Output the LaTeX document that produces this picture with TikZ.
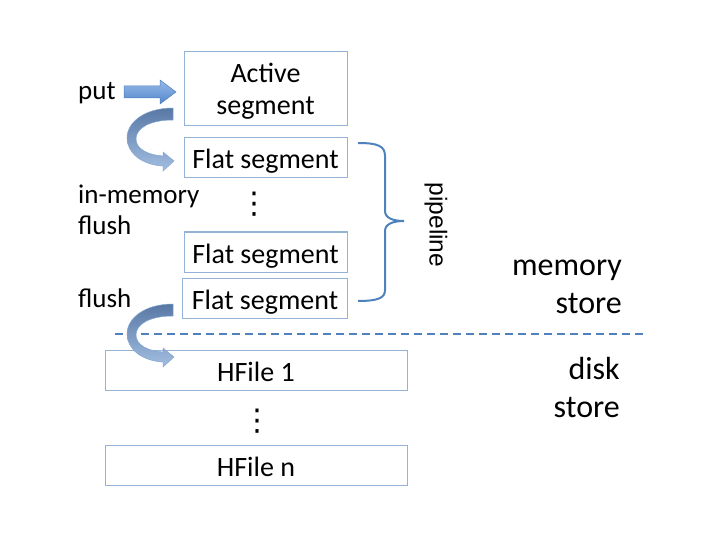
\documentclass[tikz,border=0pt]{standalone}
\usepackage{fontspec}
\setmainfont{Carlito}
\newfontfamily\arialfont{Liberation Sans}
\newfontfamily\symfont{DejaVu Sans}
\usetikzlibrary{positioning}
\definecolor{boxblue}{RGB}{149,179,215}
\definecolor{steel}{RGB}{79,129,189}
\definecolor{arrowdark}{RGB}{88,120,164}
\definecolor{arrowlight}{RGB}{163,190,226}
\definecolor{putlight}{RGB}{150,186,232}
\definecolor{putdark}{RGB}{84,134,204}

\begin{document}
\begin{tikzpicture}[x=1pt, y=-1pt,
  every node/.style={font=\fontsize{28}{32}\selectfont, inner sep=0pt},
  seg/.style={draw=boxblue, line width=1pt, minimum width=163, minimum height=40,
              align=center, text height=25pt, text depth=3pt},
  hfile/.style={seg, minimum width=302},
  vdots/.style={font=\symfont\fontsize{30}{30}\selectfont},
  sidetext/.style={anchor=base west, align=left, font=\fontsize{27}{32}\selectfont},
  storetext/.style={anchor=base east, align=right, font=\fontsize{32}{38}\selectfont}]
  \useasboundingbox (0,0) rectangle (720,540);

  % memory store: active segment and pipeline of flat segments
  \node[draw=boxblue, line width=1pt, minimum width=163, minimum height=74,
        align=center, text depth=1pt] (active) at (265.5,89) {Active\\segment};
  \node[seg] (flat1) at (265.5,158) {Flat segment};
  \node[vdots] (dots1) at (254,204.5) {⋮};
  \node[seg] (flat2) at (265.5,252) {Flat segment};
  \node[seg, minimum width=165] (flat3) at (265,298) {Flat segment};

  % disk store
  \node[hfile] (hfile1) at (256,370) {HFile 1};
  \node[vdots] (dots2) at (257,421.5) {⋮};
  \node[hfile] (hfilen) at (256,465) {HFile n};

  % side labels (base = last line)
  \node[sidetext] (put) at (78,100) {put};
  \node[sidetext] (inmem) at (78,235) {in-memory\\flush};
  \node[sidetext] (flush) at (78,307) {flush};
  \node[storetext] (memstore) at (622,313) {memory\\store};
  \node[storetext] (diskstore) at (620,417) {disk\\store};

  % brace over the pipeline
  \draw[steel, line width=2pt]
    (358,143) .. controls (378,143) and (385,146) .. (385,156) -- (385,211)
    .. controls (385,218) and (393,221) .. (404,221)
    .. controls (393,221) and (385,224) .. (385,231) -- (385,290)
    .. controls (385,298) and (378,301) .. (358,301);
  \node[font=\arialfont\fontsize{24.5}{28}\selectfont, rotate=-90] (pipeline) at (436,225) {pipeline};

  % memory / disk divider
  \draw[steel, line width=2pt, dash pattern=on 8pt off 5pt] (115,334) -- (645,334);

  % put arrow
  \shade[top color=putlight, bottom color=putdark, draw=steel, line width=0.5pt]
    (124,86) -- (160,86) -- (160,80) -- (176,92) -- (160,104) -- (160,98) -- (124,98) -- cycle;

  % curved flush arrows
  \foreach \dy in {0,196} {
    \shade[shift={(0,\dy)}, top color=arrowdark, bottom color=arrowlight,
           draw=steel!70, line width=0.5pt]
      (173,108) .. controls (145,108) and (127,122) .. (127,138)
      .. controls (127,153) and (142,165) .. (163,166)
      -- (163,171) -- (174,161) -- (163,152) -- (163,156)
      .. controls (148,155) and (136,149) .. (136,139)
      .. controls (136,128) and (150,120) .. (173,120) -- cycle;
  }
\end{tikzpicture}
\end{document}
